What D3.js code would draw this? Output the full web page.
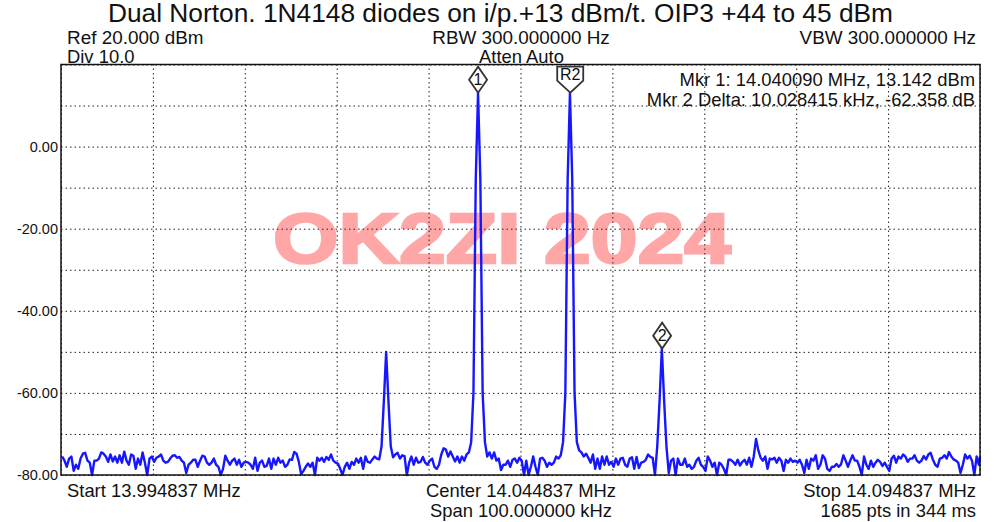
<!DOCTYPE html>
<html lang="en">

<head>
  <meta charset="UTF-8" />
  <script src="https://d3js.org/d3.v7.min.js"></script>
  <style>
    body {
      margin: 0;
      background: white;
    }

    text {
      font-family: "Liberation Sans", Arial, sans-serif;
      fill: #111;
    }

    .gridlines line {
      stroke: #222;
      stroke-dasharray: 1.5 3;
    }

    .gridlines .domain {
      stroke: none;
    }
  </style>
</head>

<body>
  <svg id="plot" height="522" width="1000" style="display:block"></svg>

  <script>
    const startMHz = 13.994837;
    const spanMHz = 0.1;
    const stepMHz = 0.00025;
    const levelTicks = [20, 10, 0, -10, -20, -30, -40, -50, -60, -70, -80];
    const labelledLevels = [0, -20, -40, -60, -80];
    const freqTicks = [0, 1, 2, 3, 4, 5, 6, 7, 8, 9, 10];

    // dBm, one point every 0.25 kHz
    const traceLevels = [
      -75.5, -76.5, -78, -76, -75.5, -79, -77.5, -78.5, -76, -74.8,
      -74.6, -76.5, -77, -80, -76.5, -76.5, -76, -74.5, -74.8, -75.5,
      -76.8, -75, -76.7, -75.5, -77, -75.2, -77, -74.3, -76.5, -77.5,
      -75, -75.3, -78.5, -76, -77.5, -74.5, -77, -80, -76, -75.5,
      -76.8, -75.8, -75.5, -75, -76.5, -77, -76.8, -76, -75.3, -75.2,
      -75.8, -75.6, -76.5, -77, -79.5, -77.5, -77, -76.3, -76.3, -78,
      -76.5, -75.3, -75.5, -77, -77.5, -77, -76, -77.5, -78, -80,
      -78.5, -75.3, -76.5, -77.5, -76.5, -76, -77.5, -76.3, -78, -77,
      -76.8, -77, -77.5, -78.5, -75.8, -79, -77, -76.5, -78, -77.8,
      -76, -78.5, -76, -77.5, -75.8, -77, -76.5, -78, -77.5, -76.2,
      -76.3, -74.4, -74.8, -76.8, -79.8, -79, -78, -77.2, -78, -77,
      -80, -75.8, -76.5, -75.8, -76.8, -75.6, -76.3, -75, -76.5, -77,
      -77.2, -78.5, -80, -78, -77, -78.5, -76.8, -77.5, -76, -77,
      -75.8, -78.5, -75.5, -76.8, -77, -76.2, -75.5, -76, -76.2, -73,
      -62, -50, -62, -73, -75.7, -75, -74.6, -76, -75.2, -75.4,
      -80, -77, -75.5, -77.5, -75.8, -77, -76.8, -75.6, -77, -77.5,
      -76.5, -76, -78, -78.5, -77.5, -75, -73.5, -73.8, -75.5, -74.3,
      -75.5, -76.7, -75.5, -77, -75.5, -76.5, -75, -74.5, -72, -60,
      -8, 13.1, -8, -60, -72, -75.5, -74.5, -76, -74.5, -76.5,
      -76, -78.8, -77.5, -77.5, -76.5, -78, -76.3, -76, -77, -75.8,
      -76.5, -80, -76.5, -80, -78, -75.5, -78, -80, -76, -75.8,
      -76.5, -78, -77, -77.5, -77, -75.5, -76, -75.2, -72, -60,
      -8, 13, -8, -60, -72, -74, -74.5, -75.5, -74.8, -75.8,
      -77, -75, -78.5, -76, -78.5, -75.5, -77.5, -75.5, -77.5, -76.8,
      -78, -76, -77.5, -76, -75.8, -77.5, -78, -76, -75.7, -78.5,
      -75.6, -78.3, -77, -76.8, -76.3, -75, -75.6, -75.8, -80, -73,
      -62, -49.2, -62, -73, -79.5, -76.5, -76, -80, -76, -77.5,
      -77.5, -76, -78, -77.5, -78.5, -78, -76.5, -75.8, -77.5, -78,
      -79, -75.5, -76.5, -78, -77, -80, -77, -77.5, -78.5, -80,
      -76.3, -76.3, -76.8, -77.5, -76.3, -77.7, -76.8, -76.3, -77.5, -75.8,
      -78, -75.5, -71.2, -74, -75.8, -76.5, -75.5, -78.5, -76, -76.2,
      -75.8, -77, -75.8, -76.5, -79, -76.3, -77, -76, -76.8, -76.5,
      -77, -76.3, -77.5, -79.5, -76.3, -78.5, -76, -76.5, -75.2, -78.5,
      -77.5, -75.2, -76, -78.5, -79, -78, -78, -77.3, -78, -77.4,
      -75.2, -76.5, -78, -76.5, -75.2, -76.5, -76.5, -78, -80, -75.5,
      -77.5, -78.5, -76.5, -78, -77, -76.3, -76.8, -77.8, -77, -78,
      -79, -76, -75.3, -77, -75.5, -76, -75, -75.5, -76.8, -76,
      -76, -75.2, -76.5, -77, -76.5, -75.4, -76.2, -75, -74.6, -76.3,
      -77.5, -78, -76, -75.8, -75.2, -76, -74.4, -75.5, -76.2, -76.5,
      -77, -79.5, -77.5, -75, -76, -75.3, -76.5, -80, -75.5, -77.5,
      -75.5
    ];

    const markerNames = ["1", "R2", "2"];
    const markerFreqs = [14.040090, 14.050118, 14.060118];
    const markerLevels = [13.142, 13.142, -49.216];

    const svg = d3.select("#plot");
    const margin = { top: 64.5, right: 20, bottom: 47, left: 61 };
    const chartWidth = 1000 - margin.left - margin.right;
    const chartHeight = 522 - margin.top - margin.bottom;

    const freqScale = d3.scaleLinear().domain([startMHz, startMHz + spanMHz]).range([0, chartWidth]);
    const levelScale = d3.scaleLinear().domain([-80, 20]).range([chartHeight, 0]);
    const chartArea = svg.append("g")
      .attr("transform", `translate(${margin.left},${margin.top})`);

    // watermark sits under the grid and the trace
    chartArea.append("text")
      .attr("x", 212)
      .attr("y", 198.5)
      .attr("text-anchor", "start")
      .attr("textLength", 458)
      .attr("lengthAdjust", "spacingAndGlyphs")
      .attr("font-size", 71)
      .attr("font-weight", "bold")
      .style("fill", "#ffa6a6")
      .style("stroke", "#ffa6a6")
      .style("stroke-width", 2.5)
      .text("OK2ZI 2024");

    const leftGrid = d3.axisLeft(levelScale)
      .tickValues(levelTicks)
      .tickSize(-chartWidth)
      .tickFormat("");
    chartArea.append("g").attr("class", "gridlines").call(leftGrid);

    const bottomGrid = d3.axisBottom(freqScale)
      .tickValues(freqTicks.map(d => startMHz + d * spanMHz / 10))
      .tickSize(-chartHeight)
      .tickFormat("");
    chartArea.append("g").attr("class", "gridlines")
      .attr("transform", `translate(0,${chartHeight})`)
      .call(bottomGrid);

    const leftAxis = d3.axisLeft(levelScale)
      .tickValues(labelledLevels)
      .tickSize(0)
      .tickPadding(3)
      .tickFormat(d => d.toFixed(2));
    const yLabels = chartArea.append("g").call(leftAxis);
    yLabels.select(".domain").remove();
    yLabels.selectAll("text")
      .attr("font-size", 14.5)
      .style("font-family", '"Liberation Sans", Arial, sans-serif');

    // trace sits about a pixel right of the grid in the original
    const traceNudge = 1.2;
    const line = d3.line()
      .x((d, i) => Math.min(freqScale(startMHz + i * stepMHz) + traceNudge, chartWidth))
      .y(d => levelScale(d));
    chartArea.append("path")
      .datum(traceLevels)
      .attr("fill", "none")
      .attr("stroke", "#1717ff")
      .attr("stroke-width", 2.4)
      .attr("stroke-linejoin", "round")
      .attr("d", line);

    chartArea.append("rect")
      .attr("width", chartWidth)
      .attr("height", chartHeight)
      .attr("fill", "none")
      .attr("stroke", "#111")
      .attr("stroke-width", 1.5);

    // markers hang with their tip on the peak
    markerNames.forEach((name, i) => {
      const mx = freqScale(markerFreqs[i]) + traceNudge;
      const my = levelScale(markerLevels[i]);
      const shape = name == "R2"
        ? `M${mx},${my} L${mx - 13},${my - 12} L${mx - 13},${my - 26} L${mx + 13},${my - 26} L${mx + 13},${my - 12} Z`
        : `M${mx},${my} L${mx - 9},${my - 13} L${mx},${my - 26} L${mx + 9},${my - 13} Z`;
      chartArea.append("path")
        .attr("d", shape)
        .attr("fill", "none")
        .attr("stroke", "#333")
        .attr("stroke-width", 1.8);
      chartArea.append("text")
        .attr("x", mx)
        .attr("y", my - (name == "R2" ? 13 : 8))
        .attr("text-anchor", "middle")
        .attr("font-size", 16)
        .text(name);
    });

    const headerTexts = [
      ["Dual Norton. 1N4148 diodes on i/p.+13 dBm/t. OIP3 +44 to 45 dBm", 500.5, 21.5, "middle", 26.3],
      ["Ref 20.000 dBm", 67, 44, "start", 18.9],
      ["Div 10.0", 67, 63, "start", 18.4],
      ["RBW 300.000000 Hz", 521, 44, "middle", 18.9],
      ["Atten Auto", 521.5, 63, "middle", 18.4],
      ["VBW 300.000000 Hz", 976, 44, "end", 18.9],
      ["Mkr 1: 14.040090 MHz, 13.142 dBm", 975, 86, "end", 18.4],
      ["Mkr 2 Delta: 10.028415 kHz, -62.358 dB", 975, 106, "end", 18.4],
      ["Start 13.994837 MHz", 67, 497, "start", 18.4],
      ["Center 14.044837 MHz", 521, 497, "middle", 18.4],
      ["Stop 14.094837 MHz", 976, 497, "end", 18.4],
      ["Span 100.000000 kHz", 521, 517, "middle", 18.4],
      ["1685 pts in 344 ms", 976, 517, "end", 18.4]
    ];
    svg.selectAll("text.label").data(headerTexts)
      .join("text")
      .attr("class", "label")
      .attr("x", d => d[1])
      .attr("y", d => d[2])
      .attr("text-anchor", d => d[3])
      .attr("font-size", d => d[4])
      .text(d => d[0]);
  </script>
</body>

</html>
